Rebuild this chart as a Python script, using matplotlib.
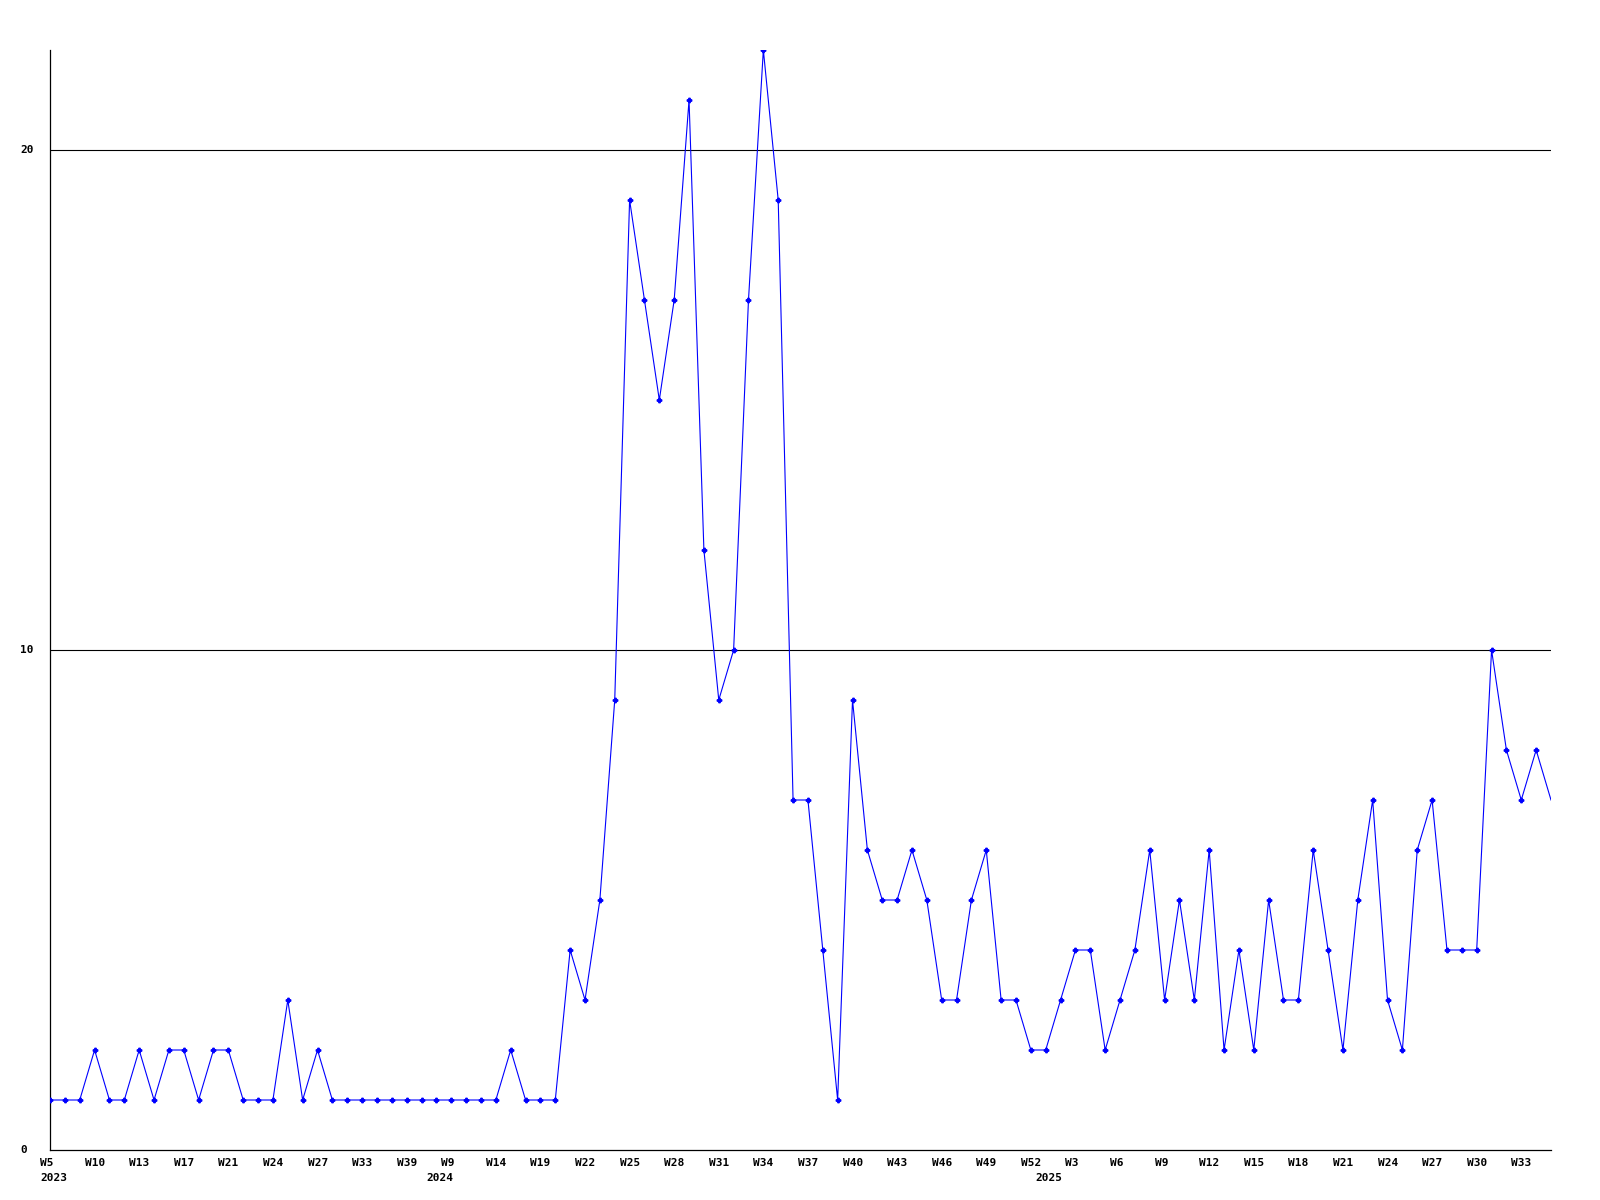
import matplotlib
matplotlib.use('Agg')
import matplotlib.pyplot as plt
import matplotlib.transforms as mtransforms

# weekly counts, one per data point
counts = [1, 1, 1, 2, 1, 1, 2, 1, 2, 2,
          1, 2, 2, 1, 1, 1, 3, 1, 2, 1,
          1, 1, 1, 1, 1, 1, 1, 1, 1, 1,
          1, 2, 1, 1, 1, 4, 3, 5, 9, 19,
          17, 15, 17, 21, 12, 9, 10, 17, 22, 19,
          7, 7, 4, 1, 9, 6, 5, 5, 6, 5,
          3, 3, 5, 6, 3, 3, 2, 2, 3, 4,
          4, 2, 3, 4, 6, 3, 5, 3, 6, 2,
          4, 2, 5, 3, 3, 6, 4, 2, 5, 7,
          3, 2, 6, 7, 4, 4, 4, 10, 8, 7,
          8, 7]

# labels shown on every third point
week_labels = ['W5', 'W10', 'W13', 'W17', 'W21', 'W24', 'W27', 'W33', 'W39',
               'W9', 'W14', 'W19', 'W22', 'W25', 'W28', 'W31', 'W34', 'W37',
               'W40', 'W43', 'W46', 'W49', 'W52', 'W3', 'W6', 'W9', 'W12',
               'W15', 'W18', 'W21', 'W24', 'W27', 'W30', 'W33']
label_step = 3

years = ['2023', '2024', '2025']
year_start_idx = [0, 26, 67]

y_ticks = [0, 10, 20]
y_max = 22

DPI = 100
fig = plt.figure(figsize=(16, 12), dpi=DPI)
ax = fig.add_axes([50 / 1600, 50 / 1200, 1501 / 1600, 1100 / 1200])

font = dict(family='DejaVu Sans Mono', weight='bold', size=8)

x = list(range(len(counts)))
for yv in y_ticks[1:]:
    ax.axhline(yv, color='black', linewidth=0.8, zorder=1)

ax.plot(x, counts, color='#0000ff', linewidth=0.8, marker='P',
        markersize=3.2, markevery=slice(0, len(counts) - 1), zorder=3)

ax.set_xlim(0, len(counts) - 1)
ax.set_ylim(0, y_max)

for side in ['top', 'right']:
    ax.spines[side].set_visible(False)
for side in ['left', 'bottom']:
    ax.spines[side].set_linewidth(0.9)
    ax.spines[side].set_color('black')

# x labels: left aligned, shifted a bit left of the point
xticks = [i * label_step for i in range(len(week_labels))]
ax.set_xticks(xticks)
ax.set_xticklabels(week_labels, ha='left', va='top', **font)
ax.tick_params(axis='x', length=0, pad=6)
shift = mtransforms.ScaledTranslation(-10 / DPI, 0, fig.dpi_scale_trans)
for lab in ax.get_xticklabels():
    lab.set_transform(lab.get_transform() + shift)

# year labels on a second row
year_tr = mtransforms.blended_transform_factory(ax.transData, ax.transAxes)
year_tr = year_tr + mtransforms.ScaledTranslation(-10 / DPI, -23 / DPI,
                                                  fig.dpi_scale_trans)
for yr, idx in zip(years, year_start_idx):
    ax.text(idx, 0, yr, transform=year_tr, ha='left', va='top', **font)

ax.set_yticks(y_ticks)
ax.set_yticklabels([str(v) for v in y_ticks], ha='left', va='center', **font)
ax.tick_params(axis='y', length=0, pad=30 * 72 / DPI)

fig.savefig('out.png', dpi=DPI)
